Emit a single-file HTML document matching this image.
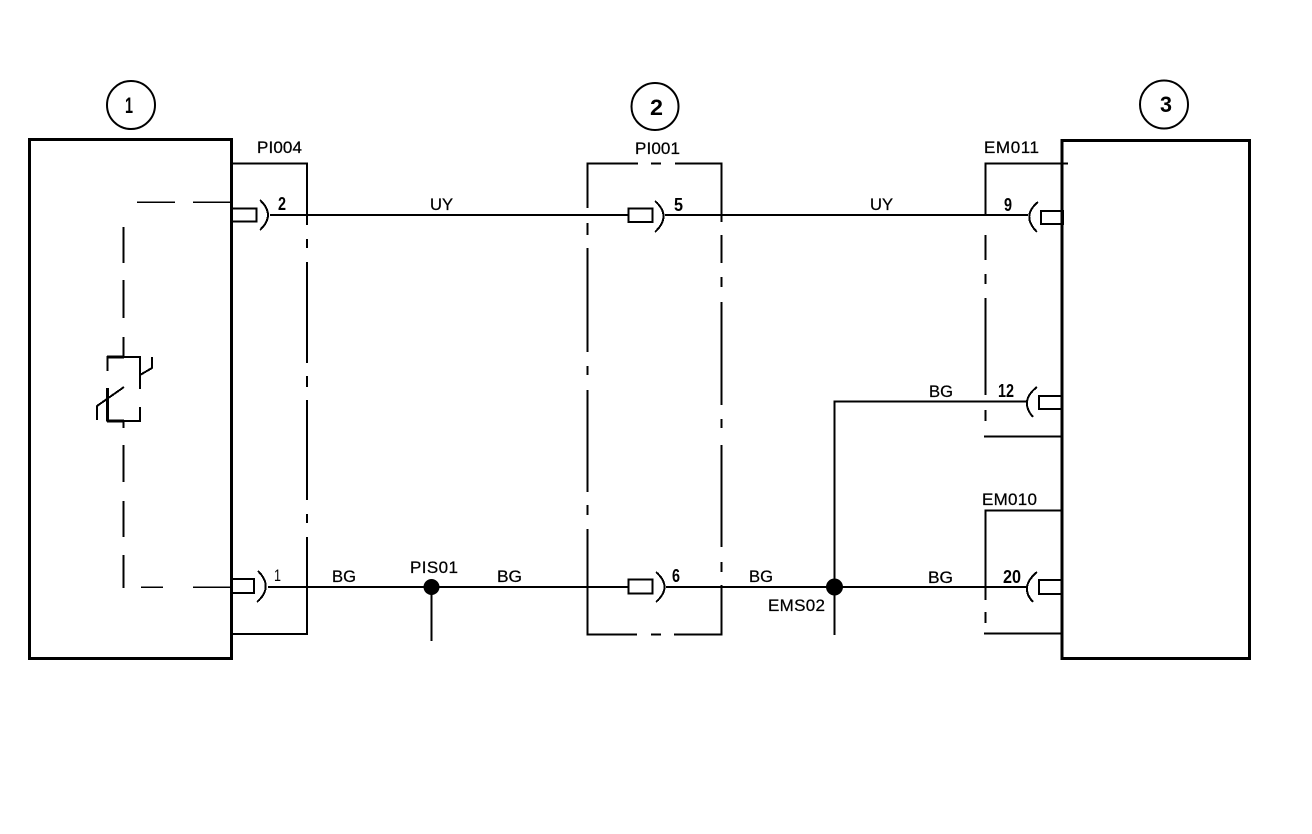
<!DOCTYPE html>
<html>
<head>
<meta charset="utf-8">
<title>Wiring diagram</title>
<style>
html,body{margin:0;padding:0;background:#fff;width:1312px;height:834px;overflow:hidden}
svg{display:block}
text{font-family:"Liberation Sans",sans-serif;fill:#000}
.l{font-size:17px;stroke:#000;stroke-width:.25px}
.n{font-size:18px;font-weight:bold}
.c{font-size:22px;font-weight:bold}
</style>
</head>
<body>
<svg width="1312" height="834" viewBox="0 0 1312 834" xmlns="http://www.w3.org/2000/svg">
<rect width="1312" height="834" fill="#fff"/>
<g fill="none" stroke="#000" shape-rendering="crispEdges">
  <!-- main boxes -->
  <rect x="29.5" y="139.5" width="202" height="519" stroke-width="3"/>
  <rect x="1062" y="140.5" width="187.5" height="518" stroke-width="3"/>

  <!-- connector 1 outline -->
  <path stroke-width="2" d="M232 163.5H307V225M307 239V248M307 262V363M307 376V387M307 400V500M307 514V523M307 537V634H232"/>

  <!-- connector 2 outline -->
  <path stroke-width="2" d="M638 163.5H587.5V208M587.5 223V235M587.5 248V352M587.5 366V375M587.5 390V492M587.5 505V515M587.5 529V634.5H637M651 634.5H661M674 634.5H721.5V585M721.5 572V562M721.5 547V445M721.5 428V419M721.5 405V302M721.5 287V277M721.5 263V235M721.5 222V163.5H675M661 163.5H651"/>

  <!-- connector 3 outlines -->
  <path stroke-width="2" d="M1068 163.5H985.5V215M985.5 235V260M985.5 274V284M985.5 298V395M985.5 410V421M984 436.5H1062"/>
  <path stroke-width="2" d="M1062 510.5H985.5V600M985.5 612V623M984 633.5H1062"/>

  <!-- wires -->
  <path stroke-width="2" d="M270 215H628M665 215H1028"/>
  <path stroke-width="2" d="M268 587H628M666 587H1026"/>
  <path stroke-width="2" d="M1026 401.5H834.5V635"/>
  <path stroke-width="2" d="M431.5 587V641"/>

  <!-- pins -->
  <rect x="232" y="208.5" width="24.5" height="13" stroke-width="2"/>
  <rect x="232" y="579" width="22" height="14" stroke-width="2"/>
  <rect x="628.5" y="208.5" width="24" height="13.5" stroke-width="2"/>
  <rect x="628.5" y="579.5" width="24" height="14" stroke-width="2"/>
  <rect x="1041" y="211" width="22" height="13" stroke-width="2"/>
  <rect x="1039" y="396" width="23" height="13" stroke-width="2"/>
  <rect x="1039" y="580" width="23" height="14" stroke-width="2"/>

  <!-- sockets -->
  <path stroke-width="2" d="M260 200Q276 215 260 230"/>
  <path stroke-width="2" d="M258 571Q274 587 257 602"/>
  <path stroke-width="2" d="M655 201Q672 216 655 232"/>
  <path stroke-width="2" d="M656 572Q673 587 656 602"/>
  <path stroke-width="2" d="M1038 202Q1021 216 1037 232"/>
  <path stroke-width="2" d="M1037 387Q1019 401 1033 417"/>
  <path stroke-width="2" d="M1037 572Q1019 587 1033 602"/>

  <!-- internal dashed link -->
  <path stroke-width="1.5" d="M137 202H175M193 202H231"/>
  <path stroke-width="1.5" d="M141 587H163M193 587H232"/>
  <path stroke-width="2" d="M123.5 227V263M123.5 280V318M123.5 337V357M123.5 421V428M123.5 445V482M123.5 501V537M123.5 555V588"/>

  <!-- thermistor -->
  <path stroke-width="2" d="M107.5 371V357H140V389"/>
  <path stroke-width="2" d="M140 407V421H107.5V388"/>
  <path stroke-width="3" d="M107.5 421V388M107 357H124M107 421H124"/>
  <path stroke-width="2" d="M97 420V406L124 387"/>
  <path stroke-width="2" d="M140 375L152 368V357"/>
</g>

<!-- numbered circles -->
<g fill="none" stroke="#000" stroke-width="2">
  <circle cx="131" cy="105" r="24"/>
  <circle cx="655" cy="106.5" r="23.5"/>
  <circle cx="1164" cy="104.5" r="24"/>
</g>

<!-- junction dots -->
<circle cx="431.5" cy="587" r="8" fill="#000"/>
<circle cx="834.5" cy="587" r="8.5" fill="#000"/>

<!-- labels -->
<text class="c" x="125" y="113" textLength="8" lengthAdjust="spacingAndGlyphs">1</text>
<text class="c" x="650" y="115" textLength="13" lengthAdjust="spacingAndGlyphs">2</text>
<text class="c" x="1160" y="112" textLength="12" lengthAdjust="spacingAndGlyphs">3</text>

<text class="l" x="257" y="153" textLength="45" lengthAdjust="spacing">PI004</text>
<text class="l" x="635" y="154" textLength="45" lengthAdjust="spacing">PI001</text>
<text class="l" x="984" y="153" textLength="55" lengthAdjust="spacing">EM011</text>
<text class="l" x="982" y="505" textLength="55" lengthAdjust="spacing">EM010</text>
<text class="l" x="410" y="573" textLength="48" lengthAdjust="spacing">PIS01</text>
<text class="l" x="768" y="611" textLength="57" lengthAdjust="spacing">EMS02</text>

<text class="l" x="430" y="210" textLength="23" lengthAdjust="spacingAndGlyphs">UY</text>
<text class="l" x="870" y="210" textLength="23" lengthAdjust="spacingAndGlyphs">UY</text>
<text class="l" x="929" y="397" textLength="24" lengthAdjust="spacingAndGlyphs">BG</text>
<text class="l" x="332" y="582" textLength="24" lengthAdjust="spacingAndGlyphs">BG</text>
<text class="l" x="497" y="582" textLength="25" lengthAdjust="spacingAndGlyphs">BG</text>
<text class="l" x="749" y="582" textLength="24" lengthAdjust="spacingAndGlyphs">BG</text>
<text class="l" x="928" y="583" textLength="25" lengthAdjust="spacingAndGlyphs">BG</text>

<text class="n" x="278" y="210" textLength="8" lengthAdjust="spacingAndGlyphs">2</text>
<text class="n" x="674" y="211" textLength="9" lengthAdjust="spacingAndGlyphs">5</text>
<text class="n" x="1004" y="211" textLength="8" lengthAdjust="spacingAndGlyphs">9</text>
<text class="n" x="998" y="397" textLength="16" lengthAdjust="spacingAndGlyphs">12</text>
<text class="n" x="1003" y="583" textLength="18" lengthAdjust="spacingAndGlyphs">20</text>
<text class="n" x="672" y="582" textLength="8" lengthAdjust="spacingAndGlyphs">6</text>
<text x="274" y="581" font-size="17" textLength="7" lengthAdjust="spacingAndGlyphs">1</text>
</svg>
</body>
</html>
